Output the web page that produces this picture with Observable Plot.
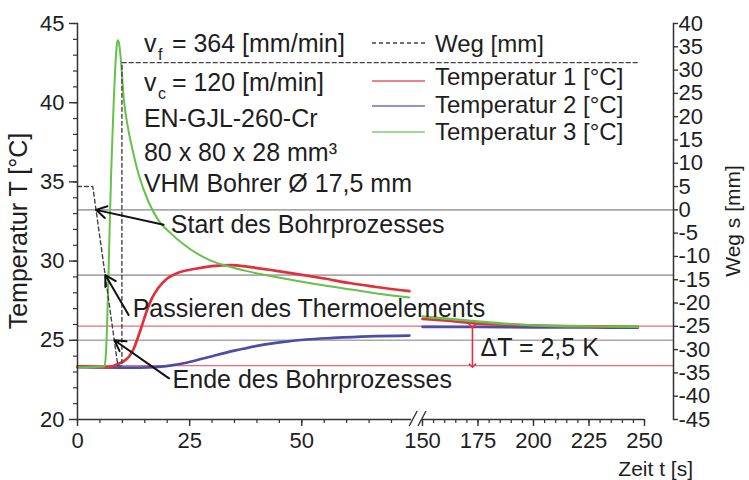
<!DOCTYPE html>
<html>
<head>
<meta charset="utf-8">
<script src="https://cdn.jsdelivr.net/npm/d3@7"></script>
<script src="https://cdn.jsdelivr.net/npm/@observablehq/plot@0.6"></script>
<style>
  html, body { margin: 0; padding: 0; background: #fff; }
  #chart svg { display: block; }
</style>
</head>
<body>
<div id="chart"></div>
<script>
// ---- measured series: [time t (s), temperature T (°C)] ----
// first time window (0 … 75 s)
const temp1A = [[0,23.35],[6,23.3],[8,23.38],[9.2,23.52],[10.5,23.72],[11.5,23.98],[12.5,24.45],[13.5,25.2],[14.5,26.05],[15.5,26.9],[16.5,27.6],[18,28.3],[20,28.9],[22.3,29.25],[26,29.5],[30,29.68],[34,29.75],[38.6,29.62],[44,29.4],[49.7,29.15],[55,28.9],[61,28.6],[67,28.35],[74,28.1]];
const temp2A = [[0,23.3],[9,23.28],[14,23.28],[18,23.32],[21,23.42],[24,23.57],[28,23.85],[35,24.35],[40,24.65],[46,24.9],[51,25.05],[57,25.15],[65,25.25],[74,25.3]];
const temp3A = [[0,23.3],[6.0,23.35],[6.3,24.0],[6.6,26.0],[6.9,29.0],[7.2,32.5],[7.5,35.5],[7.8,38.0],[8.1,40.2],[8.5,42.6],[8.8,43.7],[9.0,43.95],[9.3,43.7],[9.7,42.6],[10.3,40.3],[11.2,38.5],[12.3,37.0],[13.7,35.4],[15.9,33.7],[18,32.6],[20.8,31.75],[23.5,31.1],[26.8,30.45],[30,30.0],[33,29.72],[38,29.35],[46,28.9],[53,28.55],[61,28.2],[68,27.9],[74,27.7]];
// second time window (150 … 250 s)
const temp1B = [[150,26.35],[160,26.25],[175,26.05],[190,25.97],[205,25.92],[225,25.88],[247,25.85]];
const temp2B = [[150,25.85],[175,25.84],[200,25.82],[225,25.81],[247,25.8]];
const temp3B = [[150,26.5],[160,26.38],[176,26.17],[190,26.02],[206,25.92],[225,25.88],[247,25.85]];

// drill travel: [time t (s), Weg s (mm)]
const wegPath = [[0,5],[3.4,5],[9.0,-33.5],[9.9,-33.5],[9.9,31.6],[247,31.6]];

// reference levels
const wegLevels = [0, -14, -28];      // start, thermocouple, end of drilling (mm)
const deltaLevels = [25.9, 23.4];     // ΔT band (°C)

// axis ticks
const xMajor = [0, 25, 50, 150, 175, 200, 225, 250];
const xMinor = [0,5,10,15,20,25,30,35,40,45,50,55,60,65,70,150,155,160,165,170,175,180,185,190,195,200,205,210,215,220,225,230,235,240,245,250];
const tMajor = [20, 25, 30, 35, 40, 45];
const tMinor = d3.range(20, 46, 1);
const wegTicks = d3.range(-45, 41, 5);
const axisSegments = [[0, 74.5], [150, 250]];

// titles
const titleT = "Temperatur T [°C]";
const titleWeg = "Weg s [mm]";
const titleTime = "Zeit t [s]";

// annotations
const noteLabels = ["Start des Bohrprozesses", "Passieren des Thermoelements", "Ende des Bohrprozesses"];
const noteTextAt = [[20.8, 32.3], [12.3, 26.95], [21.2, 22.48]];
const noteTailAt = [[19.2, 32.3], [11.4, 26.6], [20.4, 22.6]];
const noteTipWeg = [[4.13, 0], [6.2, -14], [8.25, -28]];
const infoLines = ["EN-GJL-260-Cr", "80 x 80 x 28 mm³", "VHM Bohrer Ø 17,5 mm"];
const infoT = [38.96, 36.81, 34.86];
const speedLines = [{sub: "f", rest: "= 364 [mm/min]", T: 43.73}, {sub: "c", rest: "= 120 [m/min]", T: 41.27}];
const infoX = 14.8;
const deltaT = {t: 172.5, label: "\u0394T = 2,5 K", labelT: 176.1, labelY: 24.5};

const legendItems = [
  {label: "Weg [mm]", color: "#444", dash: "4,3"},
  {label: "Temperatur 1 [°C]", color: "#e0303c"},
  {label: "Temperatur 2 [°C]", color: "#4a4ea8"},
  {label: "Temperatur 3 [°C]", color: "#66c04a"}
];

// Weg (mm) shares the temperature axis: -45 … 40 mm ↔ 20 … 45 °C
const wegToT = s => 20 + (s + 45) * 25 / 85;
const tToWeg = T => (T - 20) * 85 / 25 - 45;

const COL = {red: "#e0303c", blue: "#4a4ea8", green: "#66c04a"};
const series = [
  {pts: temp2A, color: COL.blue}, {pts: temp2B, color: COL.blue},
  {pts: temp1A, color: COL.red},  {pts: temp1B, color: COL.red},
  {pts: temp3A, color: COL.green, w: 2}, {pts: temp3B, color: COL.green, w: 2.4}
];
const rows = series.flatMap((s, i) => s.pts.map(([t, T]) => ({t, T, z: i, color: s.color, w: s.w ?? 2.7})));
const wegRows = wegPath.map(([t, s]) => ({t, T: wegToT(s)}));

const notes = noteLabels.map((label, i) => ({
  label, tx: noteTextAt[i][0], Tx: noteTextAt[i][1],
  x1: noteTailAt[i][0], y1: noteTailAt[i][1],
  x2: noteTipWeg[i][0], y2: wegToT(noteTipWeg[i][1])
}));

const FONT = "'Liberation Sans', Arial, Helvetica, sans-serif";
const INK = "#1e1e1e";

const fig = Plot.plot({
  width: 749,
  height: 480,
  marginTop: 23,
  marginBottom: 61,
  marginLeft: 77,
  marginRight: 76,
  style: {fontFamily: FONT, fontSize: "22px", color: INK, background: "#fff"},
  x: {type: "linear", domain: [0, 75, 150, 250], range: [77, 413.4, 422, 644], axis: null},
  y: {domain: [20, 45], axis: null},
  marks: [
    // horizontal reference lines
    Plot.ruleY(wegLevels.map(wegToT), {stroke: "#a8a8a8", strokeWidth: 1.6}),
    Plot.ruleY(deltaLevels, {stroke: "#ec6a74", strokeWidth: 1.3}),

    // temperature curves
    Plot.line(rows, {x: "t", y: "T", z: "z", stroke: "color", strokeWidth: "w", curve: "monotone-x"}),

    // drill travel
    Plot.line(wegRows, {x: "t", y: "T", stroke: "#444", strokeWidth: 1.4, strokeDasharray: "4,3"}),

    // axes: frame lines
    Plot.frame({anchor: "left", stroke: "#333", strokeWidth: 1.5}),
    Plot.frame({anchor: "right", stroke: "#333", strokeWidth: 1.5}),
    Plot.ruleY(axisSegments, {y: () => 20, x1: d => d[0], x2: d => d[1], stroke: "#333", strokeWidth: 1.5}),

    // left temperature axis
    Plot.axisY({anchor: "left", ticks: tMinor, tickSize: 4, tickFormat: () => "", stroke: "#333", strokeWidth: 1.2}),
    Plot.axisY({anchor: "left", ticks: tMajor, tickSize: 8, tickPadding: 5, fontSize: 22, stroke: "#333", strokeWidth: 1.4, tickFormat: d => String(d), label: null}),

    // right travel axis
    Plot.axisY({anchor: "right", ticks: wegTicks.map(wegToT), tickSize: 4, tickPadding: 1, fontSize: 22, stroke: "#333", strokeWidth: 1.4,
      tickFormat: T => String(Math.round(tToWeg(T))), label: null}),

    // time axis
    Plot.axisX({anchor: "bottom", ticks: xMinor, tickSize: 4, tickFormat: () => "", stroke: "#333", strokeWidth: 1.2}),
    Plot.axisX({anchor: "bottom", ticks: xMajor, tickSize: 7, tickPadding: 6, fontSize: 22, stroke: "#333", strokeWidth: 1.4, tickFormat: d => String(d), label: null}),

    // process annotations
    Plot.arrow(notes, {x1: "x1", y1: "y1", x2: "x2", y2: "y2", stroke: "#111", strokeWidth: 2, headLength: 9, bend: 0}),
    Plot.text(notes, {x: "tx", y: "Tx", text: "label", textAnchor: "start", fontSize: 25, fill: INK}),

    // cutting parameters
    Plot.text(speedLines, {x: () => infoX, y: "T", text: () => "v", textAnchor: "start", fontSize: 25, fill: INK}),
    Plot.text(speedLines, {x: () => infoX, y: "T", text: "sub", textAnchor: "start", dx: 14, dy: 11, fontSize: 16, fill: INK}),
    Plot.text(speedLines, {x: () => infoX, y: "T", text: "rest", textAnchor: "start", dx: 28, fontSize: 25, fill: INK}),
    Plot.text(infoLines, {x: () => infoX, y: (d, i) => infoT[i], text: d => d, textAnchor: "start", fontSize: 25, fill: INK}),

    // ΔT band
    Plot.link([deltaT], {x1: "t", x2: "t", y1: () => deltaLevels[0], y2: () => deltaLevels[1], stroke: COL.red, strokeWidth: 1.6, markerStart: "arrow", markerEnd: "arrow"}),
    Plot.text([deltaT], {x: "labelT", y: "labelY", text: "label", textAnchor: "start", fontSize: 25, fill: INK})
  ]
});

// axis titles, legend and axis break marks
const svg = d3.select(fig);
const xs = fig.scale("x"), ys = fig.scale("y");
const yAxis = ys.apply(20);
const yMid = (ys.apply(20) + ys.apply(45)) / 2;

const titles = svg.append("g").attr("font-family", FONT).attr("fill", INK).attr("text-anchor", "middle");
titles.append("text")
  .attr("transform", `translate(18,${yMid + 10}) rotate(-90)`)
  .attr("dy", "0.35em").attr("font-size", 25).text(titleT);
titles.append("text")
  .attr("transform", `translate(733,${yMid}) rotate(-90)`)
  .attr("dy", "0.35em").attr("font-size", 21).text(titleWeg);
titles.append("text")
  .attr("x", 693).attr("y", 475.5).attr("text-anchor", "end")
  .attr("font-size", 21).text(titleTime);

const brk = svg.append("g").attr("stroke", "#333").attr("stroke-width", 1.4);
[xs.apply(axisSegments[0][1]) + 2, xs.apply(axisSegments[1][0])].forEach(cx => {
  brk.append("line").attr("x1", cx - 4).attr("y1", yAxis + 7).attr("x2", cx + 4).attr("y2", yAxis - 8);
});

const legend = svg.append("g").attr("font-family", FONT).attr("font-size", 24).attr("fill", INK).attr("text-anchor", "start");
const legendRowsY = [43, 81, 106, 132];
const legendTextY = [44, 77, 104.5, 132];
legendItems.forEach((item, i) => {
  legend.append("line")
    .attr("x1", 372).attr("x2", 425)
    .attr("y1", legendRowsY[i]).attr("y2", legendRowsY[i])
    .attr("stroke", item.color).attr("stroke-width", item.dash ? 1.4 : 1.5)
    .attr("stroke-opacity", item.dash ? 1 : 0.8)
    .attr("stroke-dasharray", item.dash || null);
  legend.append("text")
    .attr("x", 435).attr("y", legendTextY[i]).attr("dy", "0.35em")
    .text(item.label);
});

document.getElementById("chart").append(fig);
</script>
</body>
</html>
